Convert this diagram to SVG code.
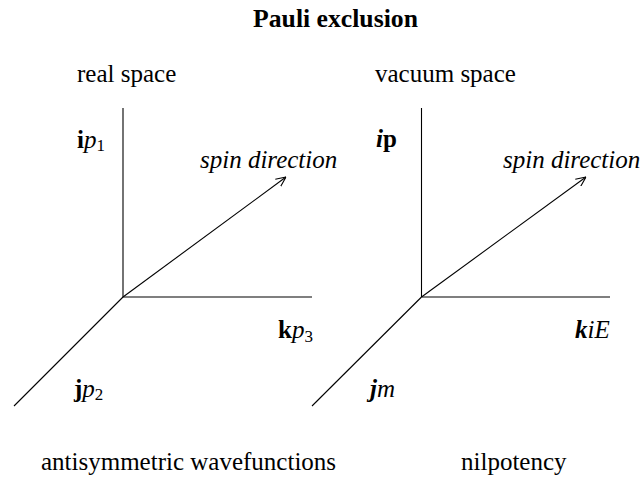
<svg xmlns="http://www.w3.org/2000/svg" width="644" height="480" viewBox="0 0 644 480" font-family="'Liberation Serif', 'Times New Roman', Times, serif">
<style>
text{font-family:'Liberation Serif','Times New Roman',Times,serif;fill:#000;font-size:25px}
.t{font-weight:bold;font-size:25.7px}
.b{font-weight:bold}
.i{font-style:italic}
.sub{font-size:17px}
line{stroke:#000;stroke-width:1.1}
</style>
<defs>
<marker id="ah" viewBox="0 0 10 10" refX="10" refY="5" markerWidth="10" markerHeight="10" markerUnits="userSpaceOnUse" orient="auto">
<path d="M0,0.5 L10,5 L0,9.5" fill="none" stroke="#000" stroke-width="1.1"/>
</marker>
</defs>
<rect width="644" height="480" fill="#fff"/>
<g id="title"><text class="t" x="335.5" y="27" text-anchor="middle">Pauli exclusion</text></g>
<g id="real">
<text x="77" y="82">real space</text>
</g>
<g id="vacuum">
<text x="375" y="82">vacuum space</text>
</g>
<g id="connectors">
<line x1="123" y1="108" x2="123" y2="297"/>
<line x1="123" y1="297" x2="312" y2="297"/>
<line x1="123" y1="297" x2="14" y2="406"/>
<line x1="123" y1="297" x2="286" y2="177" marker-end="url(#ah)"/>
<line x1="421.5" y1="108" x2="421.5" y2="297"/>
<line x1="421.5" y1="297" x2="610" y2="297"/>
<line x1="421.5" y1="297" x2="312" y2="406"/>
<line x1="421.5" y1="297" x2="586" y2="177" marker-end="url(#ah)"/>
</g>
<g id="ip1"><text x="77" y="148"><tspan class="b">i</tspan><tspan class="i">p</tspan><tspan class="sub" dy="3">1</tspan></text></g>
<g id="spin1"><text class="i" x="200" y="168">spin direction</text></g>
<g id="kp3"><text x="278" y="338"><tspan class="b">k</tspan><tspan class="i">p</tspan><tspan class="sub" dy="4">3</tspan></text></g>
<g id="jp2"><text x="74" y="397"><tspan class="b">j</tspan><tspan class="i">p</tspan><tspan class="sub" dy="3">2</tspan></text></g>
<g id="ip"><text x="376" y="147"><tspan class="b i">i</tspan><tspan class="b">p</tspan></text></g>
<g id="spin2"><text class="i" x="503" y="168">spin direction</text></g>
<g id="kiE"><text class="i" x="575" y="338"><tspan class="b">k</tspan>iE</text></g>
<g id="jm"><text class="i" x="370" y="397"><tspan class="b">j</tspan>m</text></g>
<g id="anti"><text x="41" y="470">antisymmetric wavefunctions</text></g>
<g id="nil"><text x="461" y="470">nilpotency</text></g>
</svg>
